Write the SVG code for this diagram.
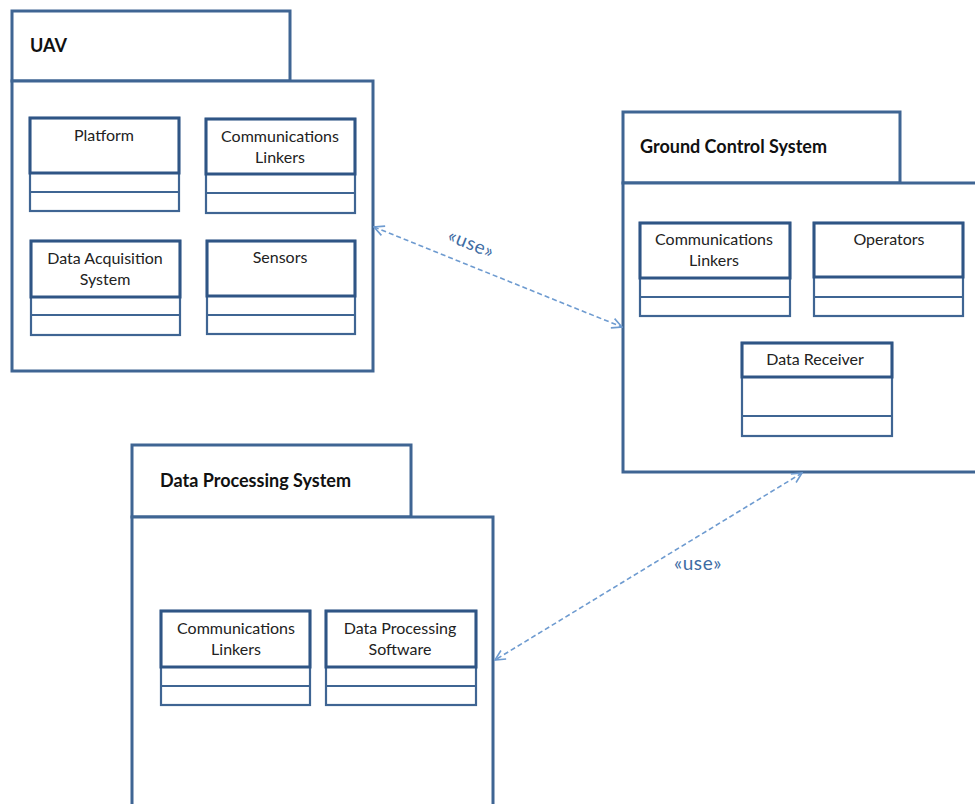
<svg xmlns="http://www.w3.org/2000/svg" width="975" height="804" viewBox="0 0 975 804">
<style>
.pkg{fill:#fff;stroke:#3F6593;stroke-width:3}
.cls{fill:#fff;stroke:#3F6593;stroke-width:2.2}
.nm{fill:none;stroke:#2F5585;stroke-width:3}
.dv{stroke:#3F6593;stroke-width:2.2}
.ptitle{font-family:Lato,"Open Sans",sans-serif;font-weight:bold;font-size:18px;fill:#111}
.ct{font-family:Lato,"Open Sans",sans-serif;font-size:16px;fill:#222;text-anchor:middle}
.conn{fill:none;stroke:#6E9BD0;stroke-width:1.6;stroke-dasharray:5,3}
.lbl{font-family:Lato,"Open Sans",sans-serif;font-size:19px;letter-spacing:0.6px;fill:#3E6CA3}
</style>
<defs>
<marker id="oa" viewBox="0 0 12 12" refX="11" refY="6" markerWidth="12" markerHeight="12" markerUnits="userSpaceOnUse" orient="auto-start-reverse">
<path d="M1,1 L11,6 L1,11" fill="none" stroke="#6E9BD0" stroke-width="1.6"/>
</marker>
</defs>
<rect width="975" height="804" fill="#fff"/>

<g id="uav">
<rect class="pkg" x="12" y="11" width="278" height="70"/>
<rect class="pkg" x="12" y="81" width="361" height="290"/>
<text class="ptitle" x="30" y="52">UAV</text>
<g id="uav-platform">
<rect class="cls" x="30" y="118" width="149" height="93"/>
<rect class="nm" x="30" y="118" width="149" height="55"/>
<line class="dv" x1="30" y1="192" x2="179" y2="192"/>
<text class="ct" x="104" y="141">Platform</text>
</g>
<g id="uav-comm">
<rect class="cls" x="206" y="119" width="149" height="94"/>
<rect class="nm" x="206" y="119" width="149" height="55"/>
<line class="dv" x1="206" y1="193" x2="355" y2="193"/>
<text class="ct" x="280" y="142">Communications</text>
<text class="ct" x="280" y="163">Linkers</text>
</g>
<g id="uav-daq">
<rect class="cls" x="31" y="241" width="149" height="94"/>
<rect class="nm" x="31" y="241" width="149" height="56"/>
<line class="dv" x1="31" y1="315" x2="180" y2="315"/>
<text class="ct" x="105" y="264">Data Acquisition</text>
<text class="ct" x="105" y="285">System</text>
</g>
<g id="uav-sensors">
<rect class="cls" x="207" y="241" width="148" height="93"/>
<rect class="nm" x="207" y="241" width="148" height="55"/>
<line class="dv" x1="207" y1="315" x2="355" y2="315"/>
<text class="ct" x="280" y="263">Sensors</text>
</g>
</g>

<g id="gcs">
<rect class="pkg" x="623" y="112" width="277" height="71"/>
<rect class="pkg" x="623" y="183" width="370" height="289"/>
<text class="ptitle" x="640" y="153">Ground Control System</text>
<g id="gcs-comm">
<rect class="cls" x="640" y="223" width="150" height="93"/>
<rect class="nm" x="640" y="223" width="150" height="55"/>
<line class="dv" x1="640" y1="297" x2="790" y2="297"/>
<text class="ct" x="714" y="245">Communications</text>
<text class="ct" x="714" y="266">Linkers</text>
</g>
<g id="gcs-operators">
<rect class="cls" x="814" y="223" width="149" height="93"/>
<rect class="nm" x="814" y="223" width="149" height="54"/>
<line class="dv" x1="814" y1="297" x2="963" y2="297"/>
<text class="ct" x="889" y="245">Operators</text>
</g>
<g id="gcs-receiver">
<rect class="cls" x="742" y="343" width="150" height="93"/>
<rect class="nm" x="742" y="343" width="150" height="34"/>
<line class="dv" x1="742" y1="416" x2="892" y2="416"/>
<text class="ct" x="815" y="365">Data Receiver</text>
</g>
</g>

<g id="dps">
<rect class="pkg" x="132" y="445" width="279" height="72"/>
<rect class="pkg" x="132" y="517" width="361" height="300"/>
<text class="ptitle" x="160" y="487">Data Processing System</text>
<g id="dps-comm">
<rect class="cls" x="161" y="611" width="149" height="94"/>
<rect class="nm" x="161" y="611" width="149" height="56"/>
<line class="dv" x1="161" y1="686" x2="310" y2="686"/>
<text class="ct" x="236" y="634">Communications</text>
<text class="ct" x="236" y="655">Linkers</text>
</g>
<g id="dps-software">
<rect class="cls" x="326" y="611" width="150" height="94"/>
<rect class="nm" x="326" y="611" width="150" height="56"/>
<line class="dv" x1="326" y1="686" x2="476" y2="686"/>
<text class="ct" x="400" y="634">Data Processing</text>
<text class="ct" x="400" y="655">Software</text>
</g>
</g>

<g id="connectors">
<line class="conn" x1="374" y1="227" x2="622" y2="327" marker-start="url(#oa)" marker-end="url(#oa)"/>
<text class="lbl" x="471" y="250" text-anchor="middle" transform="rotate(21.8 471 244)">«use»</text>
<line class="conn" x1="802" y1="473" x2="495" y2="660" marker-start="url(#oa)" marker-end="url(#oa)"/>
<text class="lbl" x="698" y="570" text-anchor="middle">«use»</text>
</g>
</svg>
